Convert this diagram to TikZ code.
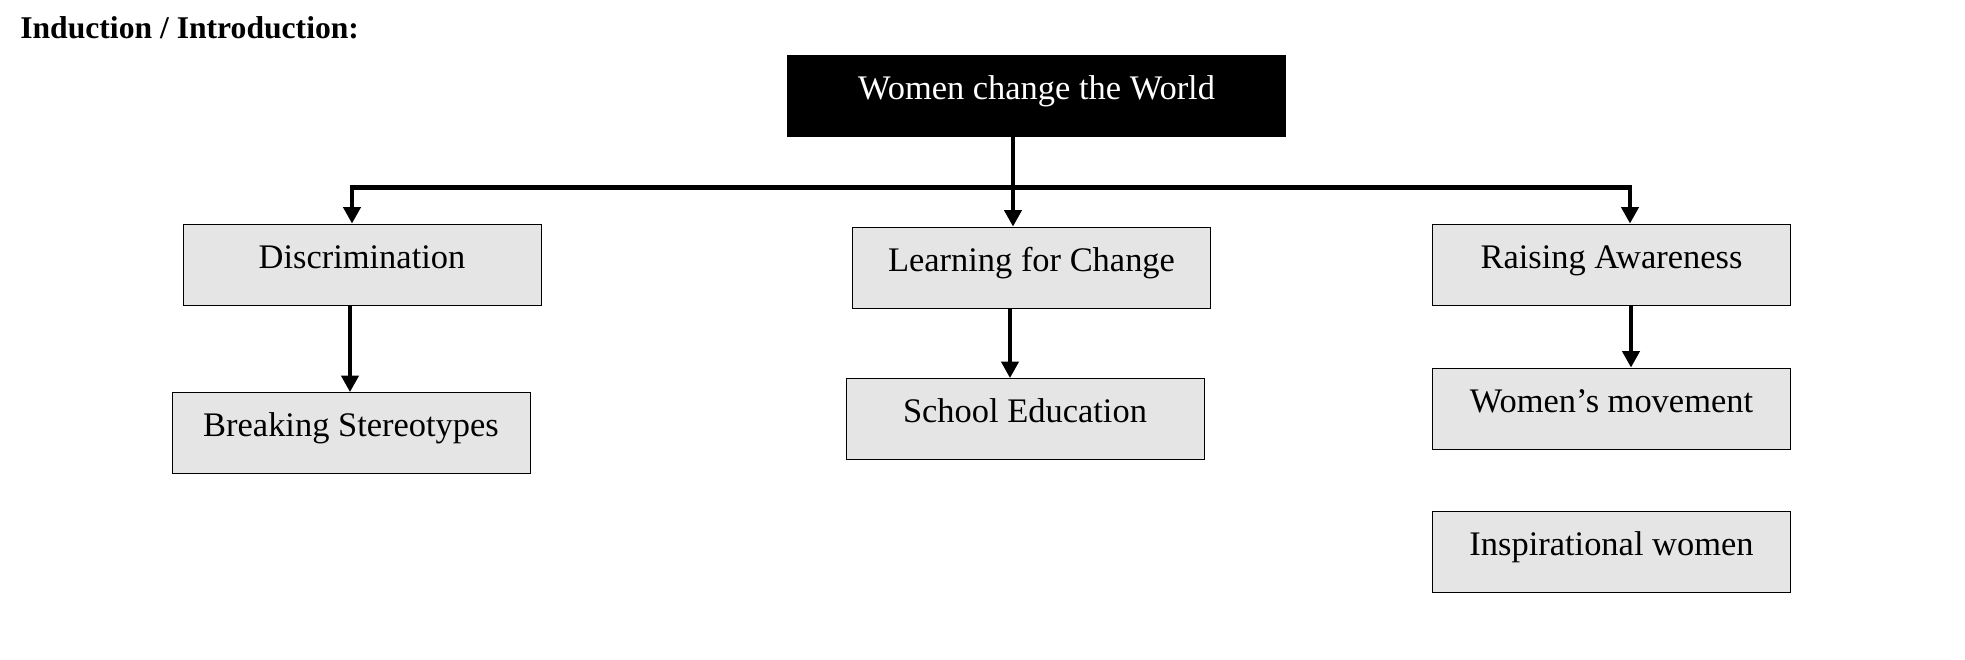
\documentclass[tikz,border=0pt]{standalone}
\usepackage{fontspec}
\setmainfont{Liberation Serif}
\usepackage{tikz}
\usetikzlibrary{shapes.geometric, arrows.meta}
\tikzstyle{topic} = [rectangle, draw=black, line width=0.5pt, fill=gray!20, minimum width=7.16cm, minimum height=1.62cm, inner sep=0pt, text height=0.8em, text depth=0.37em, font=\fontsize{19.6}{23}\selectfont]
\tikzstyle{root} = [rectangle, fill=black, text=white, minimum width=9.98cm, minimum height=1.64cm, inner sep=0pt, text height=0.8em, text depth=0.37em, font=\fontsize{19.6}{23}\selectfont]
\tikzstyle{arrow} = [line width=2.6pt,-{Triangle[length=0.33cm,width=0.34cm]}]

\begin{document}
\begin{tikzpicture}[node distance=3.37cm]
\useasboundingbox (0,0) rectangle (39.3,-13.18);

\node (title) [anchor=west, inner sep=0pt, font=\bfseries\fontsize{18}{21}\selectfont] at (0.4,-0.56) {Induction / Introduction:};

\node (root) [root] at (20.73,-1.92) {Women change the World};
\node (disc) [topic, below of=root, xshift=-13.49cm] {Discrimination};
\node (learn) [topic, below of=root, xshift=-0.10cm, yshift=-0.06cm] {Learning for Change};
\node (raise) [topic, below of=root, xshift=11.5cm] {Raising Awareness};
\node (brk) [topic, below of=disc, xshift=-0.22cm] {Breaking Stereotypes};
\node (school) [topic, below of=learn, xshift=-0.13cm, yshift=0.34cm] {School Education};
\node (womov) [topic, below of=raise, yshift=0.49cm] {Women’s movement};
\node (insp) [topic, below of=womov, yshift=0.5cm] {Inspirational women};

\coordinate (hub) at ([xshift=-0.47cm,yshift=-1.0cm]root.south);

\draw [arrow] ([xshift=-0.47cm]root.south) -- (hub |- learn.north);
\draw [arrow] (hub) -| ([xshift=-0.2cm]disc.north);
\draw [arrow] (hub) -| ([xshift=0.37cm]raise.north);
\draw [arrow] ([xshift=-0.24cm]disc.south) -- ([xshift=-0.24cm]disc.south |- brk.north);
\draw [arrow] ([xshift=-0.43cm]learn.south) -- ([xshift=-0.43cm]learn.south |- school.north);
\draw [arrow] ([xshift=0.39cm]raise.south) -- ([xshift=0.39cm]raise.south |- womov.north);

\end{tikzpicture}
\end{document}
